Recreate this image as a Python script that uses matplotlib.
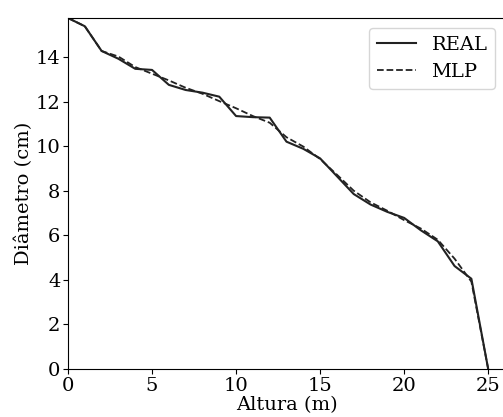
import matplotlib
matplotlib.use("Agg")
import matplotlib.pyplot as plt

altura = list(range(0, 26))
real = [15.75, 15.38, 14.27, 13.92, 13.47, 13.42, 12.75, 12.52, 12.40, 12.22,
        11.35, 11.30, 11.28, 10.20, 9.88, 9.45, 8.65, 7.85, 7.38, 7.05,
        6.78, 6.22, 5.73, 4.62, 4.05, 0.0]
mlp = [15.75, 15.38, 14.27, 14.02, 13.55, 13.25, 12.95, 12.62, 12.35, 12.02,
       11.70, 11.35, 11.05, 10.40, 9.98, 9.42, 8.72, 8.00, 7.48, 7.10,
       6.68, 6.30, 5.80, 4.95, 3.92, 0.0]

plt.rcParams["font.family"] = "DejaVu Serif"
plt.rcParams["font.size"] = 14

fig = plt.figure(figsize=(5.03, 4.17), dpi=100)
ax = fig.add_axes([68 / 503, 1 - 369 / 417, (505 - 68) / 503, (369 - 18) / 417])
ax.plot(altura, real, color="#222222", lw=1.5, label="REAL")
ax.plot(altura, mlp, color="#222222", lw=1.3, ls="--", label="MLP")
ax.set_xlim(0, 26)
ax.set_ylim(0, 15.75)
ax.set_xticks([0, 5, 10, 15, 20, 25])
ax.set_yticks([0, 2, 4, 6, 8, 10, 12, 14])
ax.tick_params(labelsize=14, pad=2)
ax.set_xlabel("Altura (m)", labelpad=1)
ax.set_ylabel("Diâmetro (cm)", labelpad=2)
ax.legend(loc="upper right", fontsize=14)
fig.savefig("out.png", dpi=100)
